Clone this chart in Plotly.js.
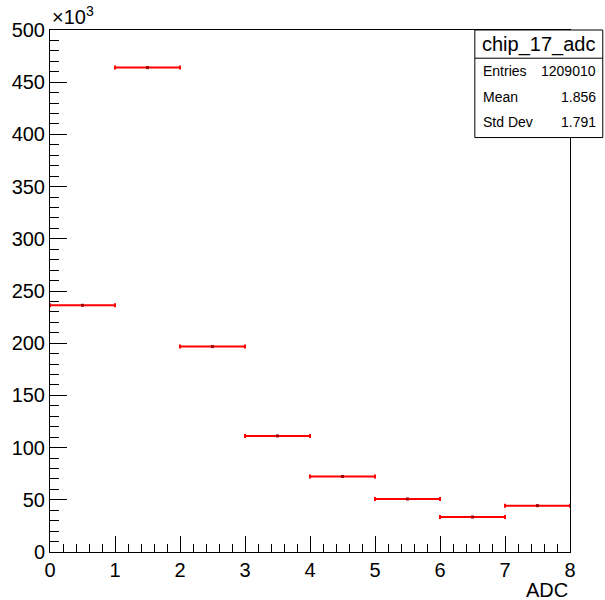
<!DOCTYPE html>
<html>
<head>
<meta charset="utf-8">
<script src="https://cdn.plot.ly/plotly-3.0.1.min.js"></script>
<style>html,body{margin:0;padding:0;background:#fff;}#chart{width:605px;height:600px;}</style>
</head>
<body>
<div id="chart"></div>
<script>
// Histogram chip_17_adc: bin edges 0..8 (width 1)
const binCenters = [0.5, 1.5, 2.5, 3.5, 4.5, 5.5, 6.5, 7.5];
const binHalfWidth = [0.5, 0.5, 0.5, 0.5, 0.5, 0.5, 0.5, 0.5];
const counts = [236300, 464000, 196800, 111200, 72300, 50800, 33500, 44400];
const yTickVals = [0, 50000, 100000, 150000, 200000, 250000, 300000, 350000, 400000, 450000, 500000];
const yTickText = ['0', '50', '100', '150', '200', '250', '300', '350', '400', '450', '500'];
const xTickVals = [0, 1, 2, 3, 4, 5, 6, 7, 8];
const statsTitle = 'chip_17_adc';
const statsLabels = ['Entries', 'Mean', 'Std Dev'];
const statsValues = ['1209010', '1.856', '1.791'];

const font = 'Liberation Sans, Arial, Helvetica, sans-serif';

const trace = {
  type: 'scatter',
  mode: 'markers',
  x: binCenters,
  y: counts,
  marker: {symbol: 'square', size: 3, color: '#a00000'},
  error_x: {type: 'data', array: binHalfWidth, symmetric: true, color: '#ff0000', thickness: 2, width: 2},
  error_y: {type: 'data', array: counts.map(Math.sqrt), symmetric: true, color: '#ff0000', thickness: 2, width: 0},
  hoverinfo: 'x+y',
  showlegend: false
};

const statRowsY = [0.921, 0.871, 0.823];
const annotations = [
  {xref: 'paper', yref: 'paper', x: 0, y: 1.027, xanchor: 'left', yanchor: 'middle', showarrow: false,
   text: '×10<sup>3</sup>', font: {family: font, size: 20, color: '#000'}},
  {xref: 'paper', yref: 'paper', x: 1, y: -0.073, xanchor: 'right', yanchor: 'middle', showarrow: false,
   text: 'ADC', font: {family: font, size: 20, color: '#000'}},
  {xref: 'paper', yref: 'paper', x: 0.940, y: 0.973, xanchor: 'center', yanchor: 'middle', showarrow: false,
   text: statsTitle, font: {family: font, size: 20, color: '#000'}}
];
statsLabels.forEach((lab, i) => {
  annotations.push({xref: 'paper', yref: 'paper', x: 0.829, y: statRowsY[i], xanchor: 'left', yanchor: 'middle',
    showarrow: false, text: lab, font: {family: font, size: 14, color: '#000'}});
  annotations.push({xref: 'paper', yref: 'paper', x: 1.054, y: statRowsY[i], xanchor: 'right', yanchor: 'middle',
    showarrow: false, text: statsValues[i], font: {family: font, size: 14, color: '#000'}});
});

const layout = {
  width: 605,
  height: 600,
  margin: {l: 50, r: 35, t: 30, b: 48, pad: 0},
  paper_bgcolor: '#fff',
  plot_bgcolor: '#fff',
  font: {family: font, size: 20, color: '#000'},
  xaxis: {
    range: [0, 8], tickvals: xTickVals, ticks: 'inside', ticklen: 16, tickwidth: 1, tickcolor: '#000',
    showline: true, linecolor: '#000', linewidth: 1, mirror: true, showgrid: false, zeroline: false,
    tickfont: {family: font, size: 20, color: '#000'},
    minor: {dtick: 0.2, ticks: 'inside', ticklen: 8, tickcolor: '#000', tickwidth: 1, showgrid: false}
  },
  yaxis: {
    range: [0, 500000], tickvals: yTickVals, ticktext: yTickText, ticks: 'inside', ticklen: 17, tickwidth: 1, tickcolor: '#000',
    showline: true, linecolor: '#000', linewidth: 1, mirror: true, showgrid: false, zeroline: false,
    tickfont: {family: font, size: 20, color: '#000'},
    minor: {dtick: 10000, ticks: 'inside', ticklen: 9, tickcolor: '#000', tickwidth: 1, showgrid: false}
  },
  shapes: [
    {type: 'rect', xref: 'paper', yref: 'paper', x0: 0.817, x1: 1.063, y0: 0.794, y1: 1.0,
     line: {color: '#000', width: 1}, fillcolor: '#fff', layer: 'above'},
    {type: 'line', xref: 'paper', yref: 'paper', x0: 0.817, x1: 1.063, y0: 0.946, y1: 0.946,
     line: {color: '#000', width: 1}, layer: 'above'}
  ],
  annotations: annotations
};

Plotly.newPlot('chart', [trace], layout, {displayModeBar: false, staticPlot: true});
</script>
</body>
</html>
